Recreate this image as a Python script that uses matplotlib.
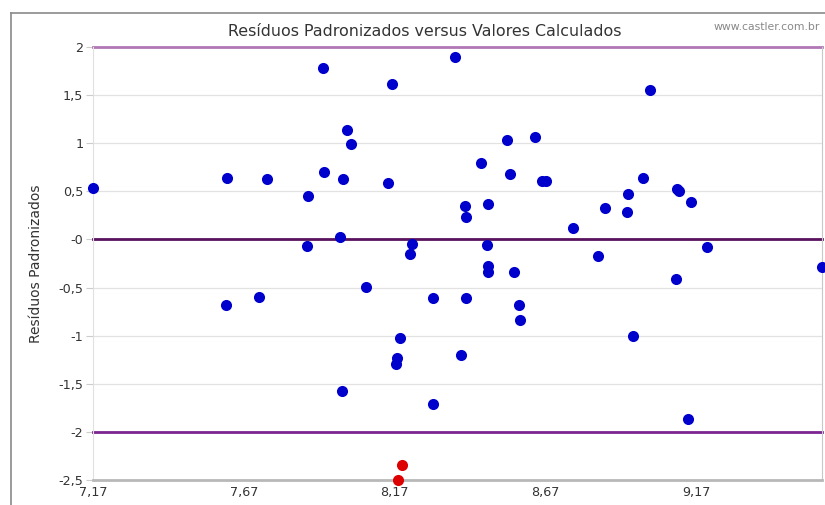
import numpy as np
import matplotlib
matplotlib.use("Agg")
import matplotlib.pyplot as plt
from matplotlib.lines import Line2D
from matplotlib.ticker import FuncFormatter

# valores calculados (x) e residuos padronizados (y)
x_blue = [7.170, 7.614, 7.746, 7.882, 7.932, 7.935, 7.998, 8.011, 8.025, 8.147,
          8.160, 7.988, 7.879, 7.610, 7.720, 8.074, 8.187, 8.177, 8.173, 7.995,
          8.226, 8.220, 8.369, 9.017, 8.544, 8.637, 8.455, 8.551, 8.660, 8.673,
          8.995, 9.105, 9.112, 9.153, 8.945, 8.942, 8.869, 8.763, 8.405, 8.408,
          8.481, 8.475, 8.845, 9.206, 8.481, 8.481, 8.567, 9.587, 9.104, 8.296,
          8.408, 8.584, 8.587, 8.961, 8.389, 8.296, 9.144]
y_blue = [0.53, 0.635, 0.625, 0.448, 1.78, 0.70, 0.625, 1.135, 0.99, 0.583,
          1.615, 0.03, -0.073, -0.677, -0.594, -0.49, -1.02, -1.23, -1.29, -1.57,
          -0.05, -0.156, 1.90, 1.555, 1.03, 1.06, 0.79, 0.68, 0.61, 0.61,
          0.64, 0.52, 0.50, 0.385, 0.47, 0.285, 0.33, 0.115, 0.345, 0.23,
          0.365, -0.06, -0.167, -0.083, -0.28, -0.34, -0.34, -0.29, -0.415, -0.61,
          -0.61, -0.685, -0.835, -1.0, -1.20, -1.71, -1.865]
# residuos fora dos limites
x_red = [8.193, 8.180]
y_red = [-2.34, -2.50]

limites = [2, 0, -2]
cores_lim = ['#b078b4', '#5a125e', '#7c2590']
y_ticks = [2, 1.5, 1, 0.5, 0, -0.5, -1, -1.5, -2, -2.5]
x_ticks = [7.17, 7.67, 8.17, 8.67, 9.17]

plt.rcParams['font.family'] = 'DejaVu Sans'

W, H = 825, 505
fig = plt.figure(figsize=(W / 100, H / 100), dpi=100)
ax = fig.add_axes([93 / W, (H - 480) / H, (822 - 93) / W, (480 - 47) / H])

ax.set_xlim(7.17, 9.587)
ax.set_ylim(-2.5, 2)

for v in [1.5, 1, 0.5, -0.5, -1, -1.5]:
    ax.axhline(v, color='#e2e2e2', lw=0.9, zorder=1)
for v, c in zip(limites, cores_lim):
    ax.axhline(v, color=c, lw=2.0, zorder=2, clip_on=False)

ax.scatter(x_blue, y_blue, s=64, color='#0000cc', zorder=4, clip_on=False, linewidths=0)
ax.scatter(x_red, y_red, s=64, color='#dd0000', zorder=4, clip_on=False, linewidths=0)

def fmt(v, pos):
    s = ('%g' % v).replace('.', ',')
    return '-0' if v == 0 else s

ax.set_yticks(y_ticks)
ax.set_xticks(x_ticks)
ax.yaxis.set_major_formatter(FuncFormatter(fmt))
ax.xaxis.set_major_formatter(FuncFormatter(fmt))
ax.tick_params(axis='y', length=5, color='#cccccc', labelsize=9.2, labelcolor='#333333', pad=2)
ax.tick_params(axis='x', length=0, labelsize=9.2, labelcolor='#333333', pad=4)

ax.spines['top'].set_visible(False)
ax.spines['left'].set_color('#e0e0e0')
ax.spines['right'].set_color('#c8c8c8')
ax.spines['bottom'].set_color('#b8b8b8')
ax.spines['bottom'].set_linewidth(2.0)

ax.set_ylabel('Resíduos Padronizados', fontsize=10, color='#333333', labelpad=11)

fig.text(425 / W, (H - 31) / H, 'Resíduos Padronizados versus Valores Calculados',
         ha='center', va='center', fontsize=11.4, color='#333333')
fig.text(820 / W, (H - 27) / H, 'www.castler.com.br', ha='right', va='center',
         fontsize=7.8, color='#888888')

# moldura externa
fig.add_artist(Line2D([11 / W, 11 / W], [0, (H - 13) / H], color='#8a8a8a', lw=1.2))
fig.add_artist(Line2D([11 / W, 1], [(H - 13) / H, (H - 13) / H], color='#8a8a8a', lw=1.2))

fig.savefig('out.png', dpi=100)
